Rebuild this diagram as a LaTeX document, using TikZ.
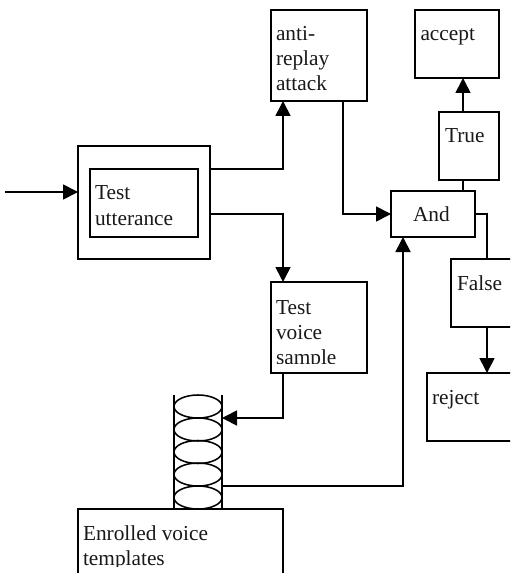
\documentclass[tikz,border=0pt]{standalone}
\usepackage{fontspec}
\setmainfont{Liberation Serif}
\usetikzlibrary{arrows.meta,shapes.geometric}
\tikzset{
  boxst/.style={rectangle,draw=black,line width=1.3pt,inner sep=0pt,outer sep=0pt,fill=white},
  thinbox/.style={boxst,line width=1.15pt},
  lbl/.style={anchor=base west,inner sep=0pt,outer sep=0pt,font=\fontsize{16}{18.4}\selectfont,text=black!90},
  disc/.style={ellipse,draw=black,line width=1.15pt,inner sep=0pt,outer sep=0pt,minimum width=36pt,minimum height=17.25pt},
  conn/.style={line width=1.25pt,draw=black},
  arr/.style={conn,-{Triangle[length=11.25pt,width=11.25pt]}}
}
\newcommand\pxbox[6][boxst]{\node[#1,minimum width={(#5-#3)*0.75pt},minimum height={(#6-#4)*0.75pt}] (#2) at ({(#3+#5)/2},{(#4+#6)/2}) {};}
\begin{document}
\begin{tikzpicture}[x=0.75pt,y=-0.75pt]
\useasboundingbox (0,0) rectangle (510,573);
\clip (0,0) rectangle (510,573);
% boxes
\pxbox[thinbox]{outer}{78}{146}{210}{259}
\pxbox{inner}{90}{169}{198}{237}
\pxbox{anti}{271}{10}{367}{101}
\pxbox{accept}{415}{10}{499}{78}
\pxbox{true}{439}{112}{499}{180}
\pxbox{and}{391}{191}{475}{237}
\pxbox{false}{451}{259}{523}{327}
\pxbox{sample}{271}{282}{367}{373}
\pxbox{reject}{427}{373}{547}{441}
\pxbox[thinbox]{enrolled}{78}{509}{283}{620}
% cylinder
\node[minimum width=36pt,minimum height=85.5pt,inner sep=0pt,outer sep=0pt] (cyl) at (198,452) {};
\foreach \n/\y in {d1/406.5,d2/429.5,d3/452,d4/474.5,d5/497.5}{
  \node[disc] (\n) at (198,\y) {};
}
\draw[conn,line width=1.15pt] (cyl.north west) -- (cyl.south west);
\draw[conn,line width=1.15pt] (cyl.north east) -- (cyl.south east);
% labels
\node[lbl] (t1) at (95,200) {Test};
\node[lbl] (t2) at (95,225) {utterance};
\node[lbl] (t3) at (420.5,41) {accept};
\node[lbl] (t4) at (445,143) {True};
\node[lbl] (t5) at (413,222) {And};
\node[lbl] (t6) at (457,290) {False};
\node[lbl] (t7) at (432,404) {reject};
\node[lbl] (t8) at (276,41) {anti-};
\node[lbl] (t9) at (276,66) {replay};
\begin{scope}
  \clip (272,70) rectangle (366,91.5);
  \node[lbl] (t10) at (276,90.5) {attack};
\end{scope}
\node[lbl] (t11) at (276,314) {Test};
\node[lbl] (t12) at (276,339) {voice};
\begin{scope}
  \clip (272,345) rectangle (366,363);
  \node[lbl] (t13) at (276,364) {sample};
\end{scope}
\node[lbl] (t14) at (83,540) {Enrolled voice};
\begin{scope}
  \clip (80,548) rectangle (280,566.5);
  \node[lbl] (t15) at (83,565) {templates};
\end{scope}
% connectors
\coordinate (in) at (5,192);
\draw[arr] (in) -- (in -| outer.west);
\draw[arr] ([yshift=25.125pt]outer.east) -| ([xshift=-27pt]anti.south);
\draw[arr] ([yshift=-8.625pt]outer.east) -| ([xshift=-27pt]sample.north);
\draw[arr] ([xshift=18pt]anti.south) |- (and.west);
\draw[conn] ([xshift=-4.5pt]true.south) -- ([xshift=-4.5pt]true.south |- and.north);
\draw[arr] ([xshift=-4.5pt]true.north) -- ([xshift=-4.5pt]true.north |- accept.south);
\draw[conn] (and.east) -| (false.north);
\draw[arr] (false.south) -- (false.south |- reject.north);
\draw[arr] ([xshift=-27pt]sample.south) |- ([yshift=25.5pt]cyl.east);
\draw[arr] ([yshift=-25.5pt]cyl.east) -| ([xshift=-22.5pt]and.south);
\end{tikzpicture}
\end{document}
